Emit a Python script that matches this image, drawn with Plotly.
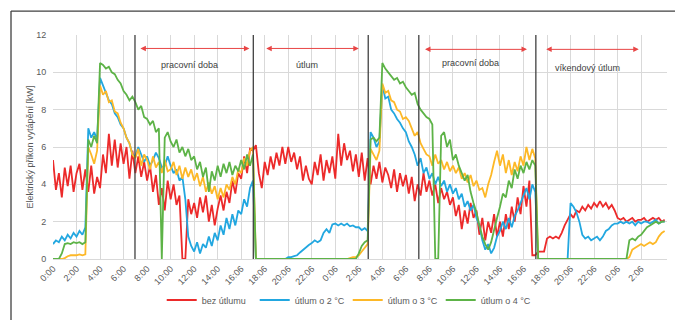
import plotly.graph_objects as go

# time axis in hours from start (step 0.25 h)
t_hours = [i * 0.25 for i in range(209)]

tick_hours = list(range(0, 52, 2))
tick_labels = ["0:00", "2:00", "4:00", "6:00", "8:00", "10:00", "12:00", "14:00",
               "16:06", "18:06", "20:06", "22:06", "0:06", "2:06", "4:06", "6:06",
               "8:06", "10:06", "12:06", "14:06", "16:06", "18:06", "20:06", "22:06",
               "0:06", "2:06"]

series_names = ["bez útlumu", "útlum o 2 °C", "útlum o 3 °C", "útlum o 4 °C"]

bez_utlumu = [
    5.3, 3.7, 4.6, 3.3, 4.9, 3.9, 5.0, 3.6,
    4.6, 5.1, 3.7, 4.8, 3.6, 5.0, 3.5, 4.4,
    3.8, 5.6, 4.6, 6.7, 5.0, 6.4, 4.9, 6.2,
    5.1, 6.0, 4.3, 5.8, 4.6, 5.5, 4.4, 5.2,
    4.2, 5.0, 3.6, 4.5, 2.9, 3.8, 2.6, 4.2,
    3.2, 4.0, 2.9, 3.4, 0.0, 0.0, 3.2, 2.4,
    3.0, 2.2, 3.3, 2.5, 3.4, 2.0, 2.9, 1.8,
    2.7, 3.4, 2.6, 3.6, 3.0, 4.2, 3.5, 4.6,
    4.3, 5.5, 4.6, 5.9, 5.8, 6.1, 4.6, 3.8,
    5.2, 4.5, 5.5, 4.8, 5.7, 5.0, 6.0, 5.1,
    6.0, 5.2, 5.7, 4.8, 5.5, 4.2, 5.0, 4.3,
    4.0, 5.2, 4.5, 5.6, 4.2, 5.3, 4.6, 5.5,
    4.3, 6.7, 5.0, 6.2, 5.3, 5.8, 4.7, 5.6,
    4.4, 5.7, 4.2, 5.4, 4.0, 5.0, 4.3, 5.2,
    4.1, 4.9, 4.5, 3.8, 4.8, 3.6, 4.6, 3.9,
    4.5, 3.5, 4.4, 3.1, 4.0, 3.4, 4.6, 3.6,
    4.2, 3.4, 4.0, 3.0, 3.8, 3.2, 3.6, 2.9,
    3.3, 2.3, 2.9, 1.6, 2.6, 1.9, 3.0, 2.2,
    2.6, 1.3, 2.2, 1.0, 2.0, 1.4, 2.4, 1.2,
    2.0, 1.2, 2.4, 1.6, 2.8, 2.0, 3.3, 2.4,
    3.9, 2.8, 4.2, 0.2, 0.2, 0.4, 0.4, 0.4,
    1.1, 1.2, 1.1, 1.2, 1.1, 1.4, 1.8, 2.1,
    2.4, 2.2, 2.6, 2.5, 2.8, 2.6, 2.9, 2.7,
    3.0, 2.8, 3.1, 2.8, 3.0, 2.7, 2.9, 2.6,
    2.2, 2.1, 2.2, 2.0, 2.1, 2.2, 2.0, 2.1,
    2.1, 2.2, 2.0, 2.1, 2.2, 2.1, 2.2, 2.0,
    2.1,
]

utlum_2 = [
    0.8, 1.0, 0.9, 1.2, 1.0, 1.3, 1.1, 1.4,
    1.2, 1.5, 1.3, 1.7, 7.0, 6.5, 6.8, 6.4,
    9.7, 9.3, 9.0, 8.5, 8.3, 7.8, 7.6, 7.2,
    7.0, 6.5, 6.2, 5.6, 5.5, 6.0, 5.6, 5.2,
    5.5, 5.0, 5.3, 5.7, 5.4, 4.9, 5.0, 5.5,
    5.0, 4.6, 4.8, 4.2, 4.4, 3.2, 1.2, 0.7,
    0.4, 0.9, 0.3, 0.8, 0.6, 1.2, 0.7, 1.4,
    1.0, 1.8, 1.3, 2.2, 1.6, 2.4, 1.8, 2.6,
    2.4, 3.2, 2.8, 3.8, 4.2, 0.0, 0.0, 0.0,
    0.0, 0.0, 0.0, 0.0, 0.0, 0.0, 0.0, 0.0,
    0.1, 0.1, 0.15, 0.2, 0.35, 0.5, 0.6, 0.75,
    0.85, 1.0, 0.9, 1.0, 1.4, 1.6, 1.4, 1.85,
    1.9, 1.8, 1.9, 1.8, 1.9, 1.75, 1.8, 1.7,
    1.7, 1.55, 1.65, 1.5, 6.8, 6.5, 6.0, 6.3,
    9.3, 8.6, 8.7, 8.0, 7.8, 7.5, 7.3, 7.0,
    6.8, 6.3, 6.0, 5.6, 5.0, 5.4, 4.6, 4.9,
    4.3, 4.6, 4.0, 4.4, 3.9, 4.2, 3.6, 4.0,
    3.5, 3.8, 3.2, 3.5, 2.8, 3.1, 2.6, 2.9,
    2.2, 1.8, 1.0, 0.5, 0.8, 0.3, 0.6, 1.2,
    1.5, 2.0, 1.6, 2.2, 1.7, 2.3, 2.6, 3.0,
    3.4, 3.8, 3.2, 4.0, 3.6, 0.0, 0.0, 0.0,
    0.0, 0.0, 0.0, 0.0, 0.0, 0.0, 0.0, 0.0,
    3.0, 2.8, 2.5, 2.0, 1.3, 1.1, 1.2, 1.0,
    1.1, 1.2, 1.0, 1.2, 1.5, 1.6, 1.8, 1.9,
    1.9, 2.0, 1.9, 2.0, 1.9, 2.0, 1.8, 2.0,
    1.9, 2.0, 2.0, 1.9, 2.0, 2.1, 1.9, 2.0,
    2.0,
]

utlum_3 = [
    0.0, 0.0, 0.0, 0.0, 0.05, 0.15, 0.2, 0.2,
    0.2, 0.25, 0.2, 0.25, 6.0, 5.6, 5.1, 5.8,
    9.3, 8.8, 9.0, 8.4, 8.5, 7.9, 7.8, 7.3,
    7.0, 6.5, 6.2, 5.6, 5.4, 5.9, 5.0, 5.6,
    5.3, 4.8, 5.5, 4.9, 5.2, 4.6, 5.3, 4.7,
    4.8, 5.2, 4.5, 5.0, 4.3, 4.9, 4.4, 4.8,
    4.2, 4.6, 3.9, 4.4, 3.6, 4.1, 3.5, 3.9,
    3.2, 3.8, 3.3, 4.0, 3.7, 4.4, 4.0, 4.8,
    4.6, 5.4, 5.0, 5.8, 6.0, 0.0, 0.0, 0.0,
    0.0, 0.0, 0.0, 0.0, 0.0, 0.0, 0.0, 0.0,
    0.0, 0.0, 0.0, 0.0, 0.0, 0.0, 0.0, 0.0,
    0.0, 0.0, 0.0, 0.0, 0.0, 0.0, 0.0, 0.0,
    0.0, 0.0, 0.0, 0.0, 0.0, 0.05, 0.1, 0.1,
    0.2, 0.4, 0.6, 0.8, 5.9, 5.6, 5.3, 5.8,
    9.4, 8.9, 9.0, 8.5, 8.4, 8.0, 7.9, 7.5,
    7.6, 7.4, 7.0, 6.6, 6.8, 6.2, 5.9, 5.6,
    5.5, 5.0, 5.6, 5.1, 5.3, 4.8, 5.2, 4.7,
    5.0, 4.6, 4.9, 4.3, 4.6, 4.1, 4.5, 3.9,
    4.2, 3.7, 3.8, 3.3, 4.0, 4.5, 5.2, 5.8,
    5.0, 5.6, 4.6, 5.3, 4.5, 5.2, 4.7, 5.5,
    5.0, 6.0, 5.3, 5.9, 5.4, 0.0, 0.0, 0.0,
    0.0, 0.0, 0.0, 0.0, 0.0, 0.0, 0.0, 0.0,
    0.0, 0.0, 0.0, 0.0, 0.0, 0.0, 0.0, 0.0,
    0.0, 0.0, 0.0, 0.0, 0.0, 0.0, 0.0, 0.0,
    0.0, 0.0, 0.0, 0.0, 0.1, 0.5, 0.6, 0.7,
    0.8, 0.7, 0.8, 0.9, 0.8, 0.9, 1.2, 1.4,
    1.5,
]

utlum_4 = [
    0.0, 0.0, 0.0, 0.3, 0.8, 0.85, 0.8, 0.9,
    0.85, 0.9, 0.8, 0.9, 6.4, 6.0, 6.6, 6.2,
    10.5, 10.4, 10.2, 10.3, 10.0, 9.9, 9.6, 9.4,
    9.0, 8.8, 8.5, 8.7, 8.4, 8.0, 8.2, 7.6,
    7.5, 7.2, 7.4, 6.8, 7.0, 0.0, 6.5, 6.8,
    6.3, 6.0, 6.4, 5.7, 6.0, 5.5, 5.9, 5.3,
    5.5, 4.8, 5.2, 4.4, 4.9, 3.6, 4.7, 4.2,
    5.0, 4.4, 5.1, 4.6, 5.2, 4.5, 5.0, 4.7,
    5.3, 4.8, 5.6, 5.0, 5.6, 0.0, 0.0, 0.0,
    0.0, 0.0, 0.0, 0.0, 0.0, 0.0, 0.0, 0.0,
    0.0, 0.0, 0.0, 0.0, 0.0, 0.0, 0.0, 0.0,
    0.0, 0.0, 0.0, 0.0, 0.0, 0.0, 0.0, 0.0,
    0.0, 0.0, 0.0, 0.0, 0.0, 0.0, 0.0, 0.0,
    0.3, 0.7, 0.9, 1.0, 6.4, 6.5, 6.3, 6.5,
    10.5, 10.2, 10.0, 9.8, 9.6, 9.7, 9.4, 9.5,
    9.2, 9.0, 8.8, 8.9, 8.3, 8.0, 7.8, 7.6,
    7.5, 7.2, 0.0, 0.0, 6.6, 6.8, 6.0, 6.4,
    5.3, 5.6, 5.0, 4.6, 4.2, 4.5, 3.6, 3.0,
    2.5, 1.8, 1.2, 0.8, 0.5, 0.9, 1.6, 2.2,
    2.8, 3.5, 3.3, 4.2, 3.8, 4.8, 4.3, 5.0,
    4.6, 5.2, 4.8, 5.3, 5.0, 0.0, 0.0, 0.0,
    0.0, 0.0, 0.0, 0.0, 0.0, 0.0, 0.0, 0.0,
    0.0, 0.0, 0.0, 0.0, 0.0, 0.0, 0.0, 0.0,
    0.0, 0.0, 0.0, 0.0, 0.0, 0.0, 0.0, 0.0,
    0.0, 0.0, 0.0, 0.0, 1.0, 1.1, 1.0, 1.2,
    1.3, 1.5, 1.7, 1.8, 1.9, 2.0, 1.9, 2.0,
    2.0,
]

# times of the regime changes (black vertical lines), hours
event_hours = [6.97, 17.03, 26.8, 31.1, 41.05]

# regime periods (start h, end h, label)
period_starts = [7.3, 18.0, 31.5, 41.8]
period_ends = [16.7, 26.0, 40.3, 49.8]
period_labels = ["pracovní doba", "útlum", "pracovní doba", "víkendový útlum"]
period_label_x = [11.6, 21.6, 35.5, 45.4]

colors = ["#EC2A2A", "#22A7E0", "#FDB827", "#5DB347"]
FONT = "Liberation Sans, Arial, sans-serif"
GRAY = "#595959"

fig = go.Figure()
for name, ys, c in zip(series_names, [bez_utlumu, utlum_2, utlum_3, utlum_4], colors):
    fig.add_trace(go.Scatter(x=t_hours, y=ys, name=name, mode="lines",
                             line=dict(color=c, width=1.8)))

shapes = []
for h in event_hours:
    shapes.append(dict(type="line", xref="x", yref="paper", x0=h, x1=h, y0=0, y1=1,
                       line=dict(color="#404040", width=1.3)))
# outer chart frame (left and top edges)
shapes.append(dict(type="line", xref="paper", yref="paper", x0=-0.0684, x1=-0.0684,
                   y0=-0.3, y1=1.107, line=dict(color="#404040", width=1.3)))
shapes.append(dict(type="line", xref="paper", yref="paper", x0=-0.0684, x1=1.1,
                   y0=1.107, y1=1.107, line=dict(color="#404040", width=1.3)))

annotations = []
arrow_y = [11.28, 11.28, 11.23, 11.23]
label_y = [10.37, 10.37, 10.5, 10.25]
for s, e, lab, lx, ay, ly in zip(period_starts, period_ends, period_labels,
                                 period_label_x, arrow_y, label_y):
    annotations.append(dict(x=e, y=ay, ax=s, ay=ay, xref="x", yref="y",
                            axref="x", ayref="y", text="", showarrow=True,
                            arrowhead=2, arrowside="end+start", arrowsize=1.1,
                            arrowwidth=1, arrowcolor="#E84545"))
    annotations.append(dict(x=lx, y=ly, xref="x", yref="y", text=lab,
                            showarrow=False, font=dict(size=9, color="#404040",
                                                       family=FONT)))

fig.update_layout(
    width=675, height=320,
    margin=dict(l=53, r=8, t=35, b=61, autoexpand=False),
    paper_bgcolor="white", plot_bgcolor="white",
    font=dict(family=FONT, size=9, color=GRAY),
    showlegend=True,
    legend=dict(orientation="h", x=0.48, xanchor="center", y=-0.183,
                yanchor="middle", font=dict(size=9, color=GRAY),
                itemwidth=30, tracegroupgap=0, entrywidth=48),
    shapes=shapes,
    annotations=annotations,
)
fig.update_xaxes(range=[0, 52.2], tickmode="array", tickvals=tick_hours,
                 ticktext=tick_labels, tickangle=-45, showgrid=True,
                 gridcolor="#D9D9D9", gridwidth=1, showline=True,
                 linecolor="#D9D9D9", zeroline=False,
                 tickfont=dict(size=9, color=GRAY))
fig.update_yaxes(range=[0, 12], dtick=2, showgrid=True, gridcolor="#D9D9D9",
                 gridwidth=1, zeroline=False, showline=False,
                 ticks="outside", ticklen=4, tickcolor="rgba(0,0,0,0)",
                 tickfont=dict(size=9, color=GRAY),
                 title=dict(text="Elektrický příkon vytápění [kW]",
                            font=dict(size=9, color=GRAY), standoff=1))

fig.write_html("out.html", config={"displayModeBar": False},
               post_script="document.body.style.margin='0';document.body.style.overflow='hidden';")
